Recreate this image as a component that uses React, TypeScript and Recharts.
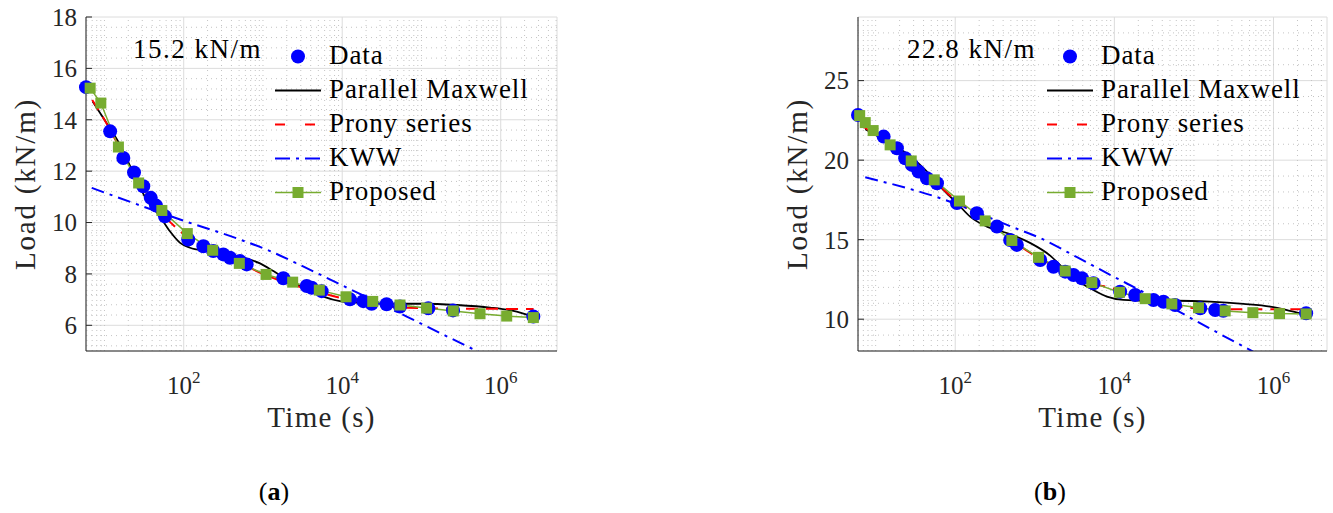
import React from 'react';
import {
  ComposedChart,
  Line,
  Scatter,
  XAxis,
  YAxis,
  CartesianGrid,
  ReferenceLine,
  Label,
} from 'recharts';

const SERIF = '"Liberation Serif", "Times New Roman", serif';
const AXIS = '#262626';
const BLUE = '#0000ff';
const RED = '#ff0000';
const GREEN = '#77ac30';

// ---- panel (a): 15.2 kN/m ----
const timeDataA = [5.85, 11.8, 17.3, 23.6, 30.9, 38.4, 44.7, 58, 114, 177, 236, 316, 384, 513, 623, 1808, 3565, 4120, 5500, 12530, 18450, 23500, 36300, 53600, 122000, 250000, 2580000];
const loadDataA = [15.27, 13.55, 12.51, 11.95, 11.41, 10.96, 10.66, 10.24, 9.34, 9.08, 8.89, 8.76, 8.63, 8.5, 8.37, 7.83, 7.53, 7.46, 7.33, 7.01, 6.94, 6.84, 6.82, 6.73, 6.66, 6.58, 6.34];
const timeMaxwellA = [7.1, 10, 15.7, 23.1, 34, 50, 67, 90, 120, 195, 349, 565, 918, 1353, 1995, 3565, 5780, 9370, 15240, 40100, 105000, 279000, 733000, 1440000, 2460000];
const loadMaxwellA = [14.71, 14.0, 13.03, 11.93, 10.89, 10.24, 9.66, 9.21, 9.02, 8.89, 8.76, 8.63, 8.41, 8.11, 7.79, 7.4, 7.12, 6.94, 6.88, 6.84, 6.84, 6.79, 6.69, 6.56, 6.36];
const timePronyA = [7, 10, 15, 20, 30, 50, 80, 120, 200, 400, 1000, 2000, 5000, 10000, 20000, 40000, 100000, 300000, 1000000, 2600000];
const loadPronyA = [14.77, 14.0, 13.0, 12.3, 11.4, 10.45, 9.8, 9.35, 9.0, 8.6, 8.0, 7.65, 7.3, 7.05, 6.88, 6.72, 6.67, 6.65, 6.64, 6.63];
const timeKwwA = [6.9, 100, 513, 1230, 3160, 15240, 65200, 200000, 500000, 630000];
const loadKwwA = [11.35, 10.07, 9.34, 8.89, 8.3, 7.28, 6.34, 5.6, 5.0, 4.85];
const timeProposedA = [6.6, 9.0, 15, 27, 53, 111, 232, 503, 1094, 2371, 5140, 11170, 24270, 53600, 116000, 252000, 548000, 1190000, 2580000];
const loadProposedA = [15.23, 14.65, 12.94, 11.54, 10.47, 9.57, 8.92, 8.41, 7.98, 7.68, 7.37, 7.11, 6.93, 6.79, 6.67, 6.56, 6.45, 6.36, 6.3];

// ---- panel (b): 22.8 kN/m ----
const timeDataB = [6.0, 12.6, 18.5, 23.5, 28.6, 34.6, 44, 59, 105, 187, 334, 490, 595, 1170, 1718, 2410, 3065, 3907, 5460, 11830, 18250, 31000, 41400, 58000, 120000, 185000, 234000, 2570000];
const loadDataB = [22.84, 21.48, 20.75, 20.12, 19.7, 19.28, 18.86, 18.55, 17.3, 16.66, 15.82, 14.98, 14.67, 13.72, 13.3, 12.99, 12.78, 12.57, 12.26, 11.73, 11.52, 11.21, 11.1, 10.89, 10.69, 10.58, 10.53, 10.37];
const timeMaxwellB = [7.4, 13.9, 25.9, 48.5, 71, 105, 154, 250, 490, 870, 1560, 2290, 3380, 4970, 8050, 13000, 23200, 61000, 160000, 419000, 906000, 1610000, 2380000];
const loadMaxwellB = [21.94, 21.16, 20.33, 19.07, 18.13, 17.3, 16.45, 15.82, 15.35, 14.8, 14.0, 13.2, 12.47, 11.94, 11.42, 11.21, 11.16, 11.16, 11.1, 10.96, 10.79, 10.53, 10.33];
const timePronyB = [7, 10, 20, 40, 60, 100, 200, 500, 1000, 2000, 5000, 10000, 20000, 40000, 100000, 300000, 1000000, 2200000];
const loadPronyB = [22.1, 21.6, 20.4, 19.3, 18.5, 17.5, 16.5, 15.0, 14.0, 13.2, 12.3, 11.9, 11.4, 11.0, 10.7, 10.62, 10.62, 10.62];
const timeKwwB = [7.4, 71, 490, 1170, 3390, 10000, 23200, 61000, 158000, 462000, 560000];
const loadKwwB = [18.92, 17.54, 15.85, 15.1, 13.9, 12.65, 11.7, 10.55, 9.42, 8.17, 7.95];
const timeProposedB = [6.3, 7.4, 9.3, 15.2, 28, 54.5, 113, 238, 515, 1112, 2408, 5210, 11590, 24380, 52700, 114000, 247000, 550000, 1190000, 2570000];
const loadProposedB = [22.8, 22.36, 21.86, 20.96, 19.95, 18.76, 17.43, 16.18, 14.95, 13.89, 13.03, 12.3, 11.69, 11.29, 10.96, 10.72, 10.52, 10.41, 10.35, 10.33];

// ---- axes ----
const MAJOR_X = [1e2, 1e4, 1e6];
const DECADES = [1, 10, 100, 1e3, 1e4, 1e5, 1e6];
const MINOR_X = DECADES.flatMap((d) => [1, 2, 3, 4, 5, 6, 7, 8, 9].map((m) => m * d)).filter(
  (v) => !MAJOR_X.includes(v)
);
const yTicksA = [6, 8, 10, 12, 14, 16, 18];
const yTicksB = [10, 15, 20, 25];

const steps = (from: number, to: number, step: number, skip: number[]) => {
  const out: number[] = [];
  for (let i = 0; from + i * step <= to + 1e-9; i++) {
    const v = Math.round((from + i * step) * 100) / 100;
    if (!skip.includes(v)) out.push(v);
  }
  return out;
};

const zip = (t: number[], v: number[]) => t.map((x, i) => ({ t: x, v: v[i] }));

const PowerTick = (props: any) => {
  const { x, y, payload } = props;
  const exp = Math.round(Math.log10(payload.value));
  return (
    <text x={x} y={y + 35} textAnchor="middle" fontFamily={SERIF} fontSize={25} fill={AXIS}>
      10
      <tspan dy={-11} fontSize={17}>
        {exp}
      </tspan>
    </text>
  );
};

const Square = (p: any) => (
  <rect key={`sq-${p.index}`} x={p.cx - 5.5} y={p.cy - 5.5} width={11} height={11} fill={GREEN} />
);

const Dot = (p: any) => <circle cx={p.cx} cy={p.cy} r={7} fill={BLUE} />;

interface PanelProps {
  left: number;
  width: number;
  yAxisWidth: number;
  marginRight: number;
  xDomain: [number, number];
  yDomain: [number, number];
  yTicks: number[];
  yMinor: number[];
  data: { t: number; v: number }[];
  maxwell: { t: number; v: number }[];
  prony: { t: number; v: number }[];
  kww: { t: number; v: number }[];
  proposed: { t: number; v: number }[];
  note: string;
  caption: string;
  legendX: number;
  noteX: number;
  captionX: number;
  yLabelX: number;
}

const H = 440;
const PLOT_BOTTOM = 351;
const MINOR_GRID = { stroke: '#c4c4c4', strokeWidth: 1, strokeDasharray: '1 4' };

const LegendBox = ({ x0 }: { x0: number }) => {
  const rows = [56.5, 90.5, 124.5, 158.5, 192.5];
  const x1 = x0 + 46;
  const xm = x0 + 23;
  const tx = x0 + 54;
  const names = ['Data', 'Parallel Maxwell', 'Prony series', 'KWW', 'Proposed'];
  return (
    <g>
      <circle cx={xm} cy={rows[0]} r={7} fill={BLUE} />
      <line x1={x0} x2={x1} y1={rows[1]} y2={rows[1]} stroke="#000" strokeWidth={1.8} />
      <line x1={x0} x2={x1} y1={rows[2]} y2={rows[2]} stroke={RED} strokeWidth={2} strokeDasharray="10 20" />
      <line x1={x0} x2={x1} y1={rows[3]} y2={rows[3]} stroke={BLUE} strokeWidth={2} strokeDasharray="15 6 3 6" />
      <line x1={x0} x2={x1} y1={rows[4]} y2={rows[4]} stroke={GREEN} strokeWidth={1.5} />
      <rect x={xm - 5.5} y={rows[4] - 5.5} width={11} height={11} fill={GREEN} />
      {names.map((n, i) => (
        <text key={n} x={tx} y={rows[i] + 7} fontFamily={SERIF} fontSize={27} letterSpacing={0.9} fill="#000">
          {n}
        </text>
      ))}
    </g>
  );
};

const Panel = (p: PanelProps) => {
  const xMinor = MINOR_X.filter((v) => v >= p.xDomain[0] && v <= p.xDomain[1]);
  const common = {
    type: 'number' as const,
    dataKey: 't',
    scale: 'log' as const,
    domain: p.xDomain,
    interval: 0 as const,
  };
  return (
    <div style={{ position: 'absolute', left: p.left, top: 0, width: p.width, height: 513 }}>
      <ComposedChart width={p.width} height={H} margin={{ top: 17, right: p.marginRight, bottom: 0, left: 0 }}>
        {xMinor.map((v) => (
          <ReferenceLine key={`mx${v}`} x={v} {...MINOR_GRID} />
        ))}
        {p.yMinor.map((v) => (
          <ReferenceLine key={`my${v}`} y={v} {...MINOR_GRID} />
        ))}
        <CartesianGrid stroke="#dcdcdc" strokeWidth={1} />

        <XAxis
          {...common}
          ticks={MAJOR_X}
          height={H - PLOT_BOTTOM}
          tickLine={false}
          tickSize={6}
          tickMargin={2}
          axisLine={{ stroke: AXIS }}
          tick={<PowerTick />}
        >
          <Label
            content={(lp: any) => (
              <text
                x={lp.viewBox.x + lp.viewBox.width / 2}
                y={lp.viewBox.y + 76}
                textAnchor="middle"
                fontFamily={SERIF}
                fontSize={29}
                letterSpacing={1.3}
                fill={AXIS}
              >
                Time (s)
              </text>
            )}
          />
        </XAxis>
        <XAxis {...common} xAxisId="bMaj" ticks={MAJOR_X} height={0} tick={false} tickSize={-6} axisLine={false} tickLine={{ stroke: AXIS }} />
        <XAxis {...common} xAxisId="bMin" ticks={xMinor} height={0} tick={false} tickSize={-3} axisLine={false} tickLine={{ stroke: AXIS }} />
        <XAxis {...common} xAxisId="tMaj" orientation="top" ticks={MAJOR_X} height={0} tick={false} tickSize={-6} axisLine={{ stroke: AXIS }} tickLine={{ stroke: AXIS }} />
        <XAxis {...common} xAxisId="tMin" orientation="top" ticks={xMinor} height={0} tick={false} tickSize={-3} axisLine={false} tickLine={{ stroke: AXIS }} />

        <YAxis
          type="number"
          dataKey="v"
          domain={p.yDomain}
          ticks={p.yTicks}
          interval={0}
          allowDataOverflow
          width={p.yAxisWidth}
          tickSize={-6}
          tickMargin={15}
          axisLine={{ stroke: AXIS }}
          tickLine={{ stroke: AXIS }}
          tick={{ fill: AXIS, fontSize: 25, fontFamily: SERIF }}
        >
          <Label
            content={(lp: any) => {
              const cx = p.yLabelX;
              const cy = lp.viewBox.y + lp.viewBox.height / 2;
              return (
                <text
                  transform={`translate(${cx}, ${cy}) rotate(-90)`}
                  textAnchor="middle"
                  fontFamily={SERIF}
                  fontSize={29}
                  letterSpacing={1.8}
                  fill={AXIS}
                >
                  Load (kN/m)
                </text>
              );
            }}
          />
        </YAxis>
        <YAxis yAxisId="r" orientation="right" type="number" domain={p.yDomain} ticks={p.yTicks} interval={0} width={0} tick={false} tickSize={-6} axisLine={{ stroke: AXIS }} tickLine={{ stroke: AXIS }} />
        <YAxis yAxisId="ys" type="number" dataKey="v" domain={p.yDomain} hide />

        <Scatter data={p.data} yAxisId="ys" dataKey="v" shape={Dot} isAnimationActive={false} />
        <Line data={p.maxwell} dataKey="v" type="monotone" stroke="#000" strokeWidth={1.8} dot={false} isAnimationActive={false} />
        <Line data={p.prony} dataKey="v" type="monotone" stroke={RED} strokeWidth={2} strokeDasharray="12 8" dot={false} isAnimationActive={false} />
        <Line data={p.kww} dataKey="v" type="monotone" stroke={BLUE} strokeWidth={2} strokeDasharray="13 6 3 6" dot={false} isAnimationActive={false} />
        <Line data={p.proposed} dataKey="v" type="linear" stroke={GREEN} strokeWidth={1.5} dot={Square} isAnimationActive={false} />
      </ComposedChart>
      <svg width={p.width} height={513} style={{ position: 'absolute', left: 0, top: 0, pointerEvents: 'none' }}>
        <LegendBox x0={p.legendX} />
        <text x={p.noteX} y={58} fontFamily={SERIF} fontSize={27} letterSpacing={1.5} fill="#000">
          {p.note}
        </text>
        <text x={p.captionX} y={500} textAnchor="middle" fontFamily={SERIF} fontSize={26} fill="#000">
          (<tspan fontWeight="bold">{p.caption}</tspan>)
        </text>
      </svg>
    </div>
  );
};

export default function App() {
  return (
    <div style={{ position: 'absolute', left: 0, top: 0, width: 1333, height: 513, background: '#fff', fontFamily: SERIF }}>
      <Panel
        left={0}
        width={580}
        yAxisWidth={86}
        marginRight={23}
        xDomain={[5.85, 5.13e6]}
        yDomain={[5, 18]}
        yTicks={yTicksA}
        yMinor={steps(5.2, 17.6, 0.4, yTicksA)}
        data={zip(timeDataA, loadDataA)}
        maxwell={zip(timeMaxwellA, loadMaxwellA)}
        prony={zip(timePronyA, loadPronyA)}
        kww={zip(timeKwwA, loadKwwA)}
        proposed={zip(timeProposedA, loadProposedA)}
        note="15.2 kN/m"
        caption="a"
        legendX={275}
        noteX={133}
        captionX={274}
        yLabelX={35}
      />
      <Panel
        left={770}
        width={563}
        yAxisWidth={88}
        marginRight={6}
        xDomain={[6.0, 4.7e6]}
        yDomain={[8, 29]}
        yTicks={yTicksB}
        yMinor={steps(9, 28, 1, yTicksB)}
        data={zip(timeDataB, loadDataB)}
        maxwell={zip(timeMaxwellB, loadMaxwellB)}
        prony={zip(timePronyB, loadPronyB)}
        kww={zip(timeKwwB, loadKwwB)}
        proposed={zip(timeProposedB, loadProposedB)}
        note="22.8 kN/m"
        caption="b"
        legendX={277}
        noteX={137}
        captionX={280}
        yLabelX={37}
      />
    </div>
  );
}
